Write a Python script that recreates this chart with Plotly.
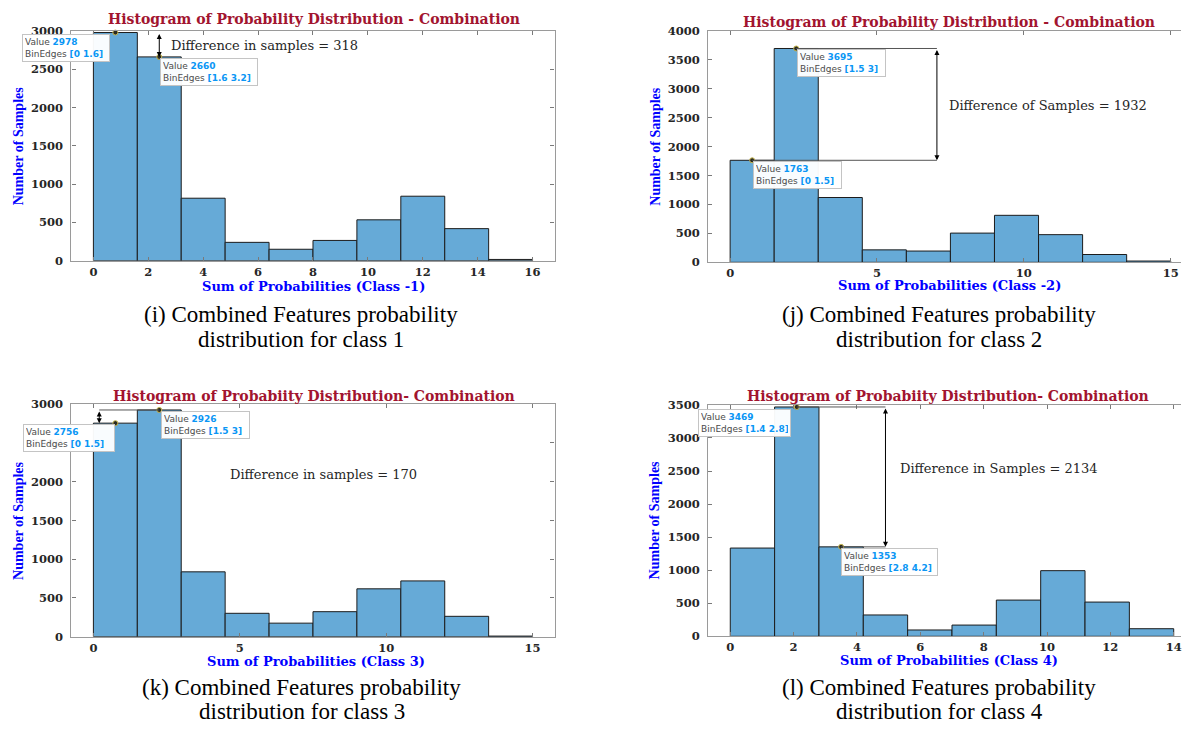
import plotly.graph_objects as go

FIG_W, FIG_H = 1182, 731

# ---------------- data ----------------
edges_c1 = [0, 1.6, 3.2, 4.8, 6.4, 8.0, 9.6, 11.2, 12.8, 14.4, 16.0]
counts_c1 = [2978, 2660, 816, 240, 150, 265, 534, 842, 419, 17]

edges_c2 = [0, 1.5, 3.0, 4.5, 6.0, 7.5, 9.0, 10.5, 12.0, 13.5, 15.0]
counts_c2 = [1763, 3695, 1120, 215, 195, 505, 812, 478, 135, 22]

edges_c3 = [0, 1.5, 3.0, 4.5, 6.0, 7.5, 9.0, 10.5, 12.0, 13.5, 15.0]
counts_c3 = [2756, 2926, 837, 302, 175, 323, 618, 720, 263, 8]

edges_c4 = [0, 1.4, 2.8, 4.2, 5.6, 7.0, 8.4, 9.8, 11.2, 12.6, 14.0]
counts_c4 = [1335, 3469, 1353, 323, 96, 170, 548, 993, 518, 115]

x_ticks_c1 = [0, 2, 4, 6, 8, 10, 12, 14, 16]
x_ticks_c2 = [0, 5, 10, 15]
x_ticks_c3 = [0, 5, 10, 15]
x_ticks_c4 = [0, 2, 4, 6, 8, 10, 12, 14]
y_ticks_c1 = [0, 500, 1000, 1500, 2000, 2500, 3000]
y_ticks_c2 = [0, 500, 1000, 1500, 2000, 2500, 3000, 3500, 4000]
y_ticks_c3 = [0, 500, 1000, 1500, 2000, 2500, 3000]
y_ticks_c4 = [0, 500, 1000, 1500, 2000, 2500, 3000, 3500]

titles = [
    "Histogram of Probability Distribution - Combination",
    "Histogram of Probability Distribution - Combination",
    "Histogram of Probabiity Distribution- Combination",
    "Histogram of Probabiity Distribution- Combination",
]
x_labels = [
    "Sum of Probabilities (Class -1)",
    "Sum of Probabilities (Class -2)",
    "Sum of Probabilities (Class 3)",
    "Sum of Probabilities (Class 4)",
]
y_label = "Number of Samples"
captions = [
    ("(i) Combined Features probability", "distribution for class 1"),
    ("(j) Combined Features probability", "distribution for class 2"),
    ("(k) Combined Features probability", "distribution for class 3"),
    ("(l) Combined Features probability", "distribution for class 4"),
]
diff_texts = [
    "Difference in samples = 318",
    "Difference of Samples = 1932",
    "Difference in samples = 170",
    "Difference in Samples = 2134",
]
# bins that carry a datatip: (first tip, second tip)
tip_bins = [(0, 1), (1, 0), (0, 1), (1, 2)]

all_edges = [edges_c1, edges_c2, edges_c3, edges_c4]
all_counts = [counts_c1, counts_c2, counts_c3, counts_c4]
all_xt = [x_ticks_c1, x_ticks_c2, x_ticks_c3, x_ticks_c4]
all_yt = [y_ticks_c1, y_ticks_c2, y_ticks_c3, y_ticks_c4]

# ---------------- layout geometry (pixels) ----------------
panels = [
    dict(l=71.5, r=555, t=24.3, b=258.7, xr=[-0.8, 16.8], yr=[0, 3000], box=True),
    dict(l=708.7, r=1182, t=24.3, b=260.3, xr=[-0.75, 15.35], yr=[0, 4000], box=False),
    dict(l=71.5, r=555, t=405, b=642, xr=[-0.75, 15.75], yr=[0, 3000], box=True),
    dict(l=708.7, r=1182, t=405.7, b=641.6, xr=[-0.7, 14.23], yr=[0, 3500], box=False),
]
title_pos = [(314, 12), (950, 15.5), (314, 396.5), (949, 396.5)]
xlab_pos = [(314, 285), (950, 283.5), (316, 667), (950, 666)]
ylab_pos = [(18.5, 141.5), (656, 142), (19, 523), (656, 523)]
caption_pos = [(301, 314, 339), (940, 314, 339), (302, 694, 718), (940, 694, 718)]
diff_pos = [(169, 39.5), (947.5, 100), (228.5, 476.5), (899, 470.5)]
# datatip placement: (xanchor, xshift, yshift, box width)
tip_style = [
    [("right", -5, -1, 88), ("left", 1, -1, 98)],
    [("left", 1, -1, 89), ("left", 1, -1, 89)],
    [("right", 0, -1, 92), ("left", 2, -1, 89)],
    [("right", -6, -2, 93), ("left", 0, -1, 97)],
]
# arrow x position (data units) joining the two datatips
arrow_x = [2.4, 7.04, 0.2, 4.9]

BAR_COLOR = "#66AAD7"
TITLE_COLOR = "#A2142F"
LABEL_BLUE = "#0000FF"
TIP_BLUE = "#0A96F5"


def px(xp):
    return xp / FIG_W


def py(yp):
    return 1 - yp / FIG_H


fig = go.Figure()
annotations = []
shapes = []
layout_axes = {}

for i in range(4):
    n = "" if i == 0 else str(i + 1)
    xa, ya = "x" + n, "y" + n
    edges, counts = all_edges[i], all_counts[i]
    centers = [(edges[k] + edges[k + 1]) / 2 for k in range(len(counts))]
    widths = [edges[k + 1] - edges[k] for k in range(len(counts))]
    P = panels[i]

    fig.add_trace(go.Bar(
        x=centers, y=counts, width=widths, xaxis=xa, yaxis=ya,
        marker=dict(color=BAR_COLOR, line=dict(color="#1c1c1c", width=1)),
        showlegend=False, hoverinfo="skip",
    ))

    # datatip dots
    tb = tip_bins[i]
    fig.add_trace(go.Scatter(
        x=[centers[k] for k in tb], y=[counts[k] for k in tb],
        xaxis=xa, yaxis=ya, mode="markers", showlegend=False, hoverinfo="skip",
        marker=dict(size=5, color="#2a2a22", line=dict(color="#c8b850", width=1)),
        cliponaxis=False,
    ))

    axis_common = dict(
        showline=True, linecolor="#9a9a9a", linewidth=1.2,
        ticks="inside", ticklen=4, tickwidth=1, tickcolor="#7a7a7a",
        tickfont=dict(family="DejaVu Serif", size=11.5, color="#262626", weight="bold"),
        showgrid=False, zeroline=False, fixedrange=True,
        ticklabeloverflow="allow",
    )
    layout_axes["xaxis" + n] = dict(
        axis_common, domain=[px(P["l"]), px(P["r"])], range=P["xr"],
        anchor=ya, tickmode="array", tickvals=all_xt[i],
        mirror="ticks", ticklabelstandoff=0,
    )
    layout_axes["yaxis" + n] = dict(
        axis_common, domain=[py(P["b"]), py(P["t"])], range=P["yr"],
        anchor=xa, tickmode="array", tickvals=all_yt[i],
        mirror="ticks" if P["box"] else False, ticklabelstandoff=5,
    )

    # title
    tx, ty = title_pos[i]
    annotations.append(dict(
        xref="paper", yref="paper", x=px(tx), y=py(ty), showarrow=False,
        text="<b>" + titles[i] + "</b>", xanchor="center", yanchor="middle",
        font=dict(family="DejaVu Serif", size=14, color=TITLE_COLOR),
    ))
    # x label
    lx, ly = xlab_pos[i]
    annotations.append(dict(
        xref="paper", yref="paper", x=px(lx), y=py(ly), showarrow=False,
        text="<b>" + x_labels[i] + "</b>", xanchor="center", yanchor="middle",
        font=dict(family="DejaVu Serif", size=13, color=LABEL_BLUE),
    ))
    # y label
    yx, yy = ylab_pos[i]
    annotations.append(dict(
        xref="paper", yref="paper", x=px(yx), y=py(yy), showarrow=False,
        text="<b>" + y_label + "</b>", textangle=-90, xanchor="center", yanchor="middle",
        font=dict(family="Liberation Serif", size=14, color=LABEL_BLUE),
    ))
    # caption
    cx, cy1, cy2 = caption_pos[i]
    for line, cy in zip(captions[i], (cy1, cy2)):
        annotations.append(dict(
            xref="paper", yref="paper", x=px(cx), y=py(cy), showarrow=False,
            text=line, xanchor="center", yanchor="middle",
            font=dict(family="Liberation Serif", size=23, color="#000000"),
        ))
    # difference text
    dx, dy = diff_pos[i]
    annotations.append(dict(
        xref="paper", yref="paper", x=px(dx), y=py(dy), showarrow=False,
        text=diff_texts[i], xanchor="left", yanchor="middle",
        font=dict(family="DejaVu Serif", size=13, color="#262626"),
    ))

    # datatips
    for k, (anc, xs, ys, bw) in zip(tb, tip_style[i]):
        txt = ("Value <b><span style='color:%s'>%d</span></b><br>"
               "BinEdges <b><span style='color:%s'>[%g %g]</span></b>"
               % (TIP_BLUE, counts[k], TIP_BLUE, edges[k], edges[k + 1]))
        annotations.append(dict(
            xref=xa, yref=ya, x=centers[k], y=counts[k], showarrow=False,
            text=txt, align="left", xanchor=anc, yanchor="top",
            xshift=xs, yshift=ys, width=bw - 6,
            bgcolor="rgba(255,255,255,0.96)", bordercolor="#c4c4c4",
            borderwidth=1, borderpad=2,
            font=dict(family="DejaVu Sans", size=9, color="#4a4a4a"),
        ))

    # difference arrow and connector lines
    ka, kb = tb
    y_hi = max(counts[ka], counts[kb])
    y_lo = min(counts[ka], counts[kb])
    annotations.append(dict(
        xref=xa, yref=ya, axref=xa, ayref=ya,
        x=arrow_x[i], y=y_lo, ax=arrow_x[i], ay=y_hi,
        showarrow=True, text="", arrowside="end+start",
        arrowhead=2, startarrowhead=2, arrowsize=1, startarrowsize=1,
        arrowwidth=1, arrowcolor="#000000", standoff=0, startstandoff=0,
    ))
    if i != 0:
        k_hi = ka if counts[ka] >= counts[kb] else kb
        k_lo = kb if k_hi == ka else ka
        x_start = centers[k_hi] if i != 2 else arrow_x[i]
        x_end = arrow_x[i] if i != 2 else centers[k_hi]
        shapes.append(dict(type="line", xref=xa, yref=ya,
                           x0=x_start, x1=x_end,
                           y0=counts[k_hi], y1=counts[k_hi],
                           line=dict(color="#555555", width=1)))
        if i != 2:
            shapes.append(dict(type="line", xref=xa, yref=ya,
                               x0=centers[k_lo], x1=arrow_x[i],
                               y0=counts[k_lo], y1=counts[k_lo],
                               line=dict(color="#555555", width=1)))

fig.update_layout(
    width=FIG_W, height=FIG_H,
    margin=dict(l=0, r=0, t=0, b=0),
    paper_bgcolor="white", plot_bgcolor="white",
    barmode="overlay",
    annotations=annotations, shapes=shapes,
    **layout_axes,
)

fig.write_html(
    "out.html",
    config={"displayModeBar": False},
    post_script="document.body.style.margin='0';document.body.style.overflow='hidden';",
)
